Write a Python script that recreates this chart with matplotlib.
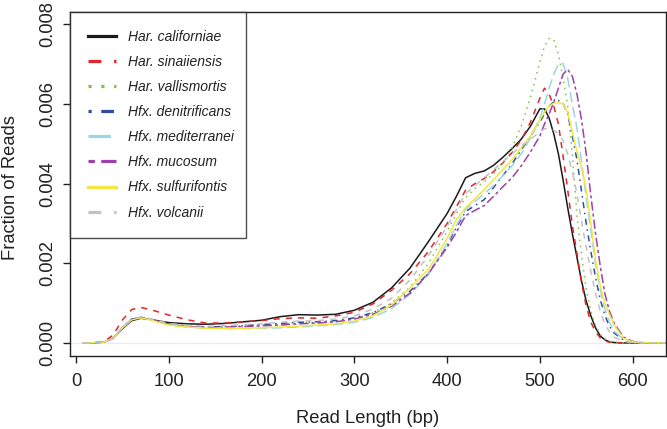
import matplotlib
matplotlib.use("Agg")
import matplotlib.pyplot as plt
from matplotlib.lines import Line2D

plt.rcParams['font.family'] = ['Liberation Sans', 'DejaVu Sans']

# Read length grid (bp)
read_length = [8, 20, 30, 40, 50, 60, 70, 80, 90, 100,
               120, 140, 160, 180, 200, 220, 240, 260, 280, 300,
               320, 340, 360, 380, 400, 410, 420, 430, 440, 450,
               460, 470, 480, 490, 500, 505, 510, 515, 520, 525,
               530, 535, 540, 545, 550, 555, 560, 565, 570, 575,
               580, 590, 600, 610, 620, 635]

# Fraction of reads, in units of 1e-3
har_californiae = [0, 0.005, 0.02, 0.12, 0.36, 0.56, 0.62, 0.59, 0.55, 0.51,
                   0.48, 0.47, 0.49, 0.53, 0.57, 0.66, 0.71, 0.70, 0.72, 0.82,
                   1.02, 1.38, 1.88, 2.55, 3.25, 3.68, 4.15, 4.26, 4.32, 4.46,
                   4.66, 4.88, 5.12, 5.45, 5.88, 5.88, 5.65, 5.25, 4.75, 4.10,
                   3.40, 2.75, 2.15, 1.55, 1.05, 0.68, 0.38, 0.18, 0.08, 0.03,
                   0.01, 0, 0, 0, 0, 0]
har_sinaiiensis = [0, 0.005, 0.03, 0.20, 0.58, 0.84, 0.89, 0.84, 0.77, 0.70,
                   0.58, 0.50, 0.50, 0.53, 0.56, 0.61, 0.63, 0.62, 0.68, 0.77,
                   0.98, 1.32, 1.74, 2.30, 3.00, 3.42, 3.84, 4.00, 4.13, 4.30,
                   4.52, 4.78, 5.10, 5.55, 6.15, 6.40, 6.25, 5.95, 5.50, 4.70,
                   3.85, 2.95, 2.25, 1.50, 0.92, 0.52, 0.28, 0.13, 0.05, 0.02,
                   0.01, 0, 0, 0, 0, 0]
har_vallismortis = [0, 0.005, 0.02, 0.12, 0.38, 0.60, 0.64, 0.60, 0.53, 0.47,
                    0.42, 0.40, 0.41, 0.43, 0.45, 0.48, 0.50, 0.52, 0.55, 0.62,
                    0.76, 1.00, 1.40, 2.00, 2.80, 3.25, 3.65, 3.88, 4.05, 4.25,
                    4.50, 4.90, 5.45, 6.18, 7.05, 7.45, 7.65, 7.62, 7.25, 6.65,
                    5.95, 4.75, 3.20, 2.20, 1.35, 0.80, 0.45, 0.22, 0.10, 0.04,
                    0.02, 0.005, 0, 0, 0, 0]
hfx_denitrificans = [0, 0.005, 0.02, 0.12, 0.38, 0.60, 0.64, 0.60, 0.53, 0.47,
                     0.42, 0.40, 0.41, 0.43, 0.46, 0.49, 0.52, 0.53, 0.56, 0.63,
                     0.76, 0.98, 1.30, 1.75, 2.45, 2.90, 3.30, 3.45, 3.60, 3.90,
                     4.20, 4.50, 4.85, 5.20, 5.55, 5.75, 5.95, 6.05, 6.09, 6.02,
                     5.75, 5.20, 4.60, 3.80, 3.00, 2.30, 1.65, 1.10, 0.70, 0.42,
                     0.25, 0.08, 0.02, 0.005, 0, 0]
hfx_mediterranei = [0, 0.005, 0.02, 0.12, 0.38, 0.60, 0.65, 0.60, 0.52, 0.46,
                    0.40, 0.37, 0.36, 0.36, 0.37, 0.38, 0.40, 0.43, 0.46, 0.52,
                    0.64, 0.86, 1.22, 1.72, 2.50, 2.95, 3.35, 3.55, 3.75, 3.95,
                    4.20, 4.45, 4.75, 5.15, 5.65, 6.00, 6.40, 6.75, 7.00, 7.02,
                    6.65, 6.00, 5.40, 4.55, 3.65, 2.80, 2.00, 1.35, 0.85, 0.52,
                    0.30, 0.09, 0.02, 0.005, 0, 0]
hfx_mucosum = [0, 0.005, 0.02, 0.12, 0.38, 0.60, 0.64, 0.60, 0.53, 0.46,
               0.41, 0.39, 0.40, 0.41, 0.43, 0.45, 0.48, 0.50, 0.53, 0.60,
               0.72, 0.92, 1.25, 1.75, 2.40, 2.78, 3.20, 3.33, 3.45, 3.68,
               3.92, 4.15, 4.45, 4.80, 5.20, 5.50, 5.75, 6.05, 6.40, 6.75,
               6.87, 6.70, 6.25, 5.60, 4.75, 3.70, 2.75, 1.95, 1.25, 0.80,
               0.50, 0.15, 0.04, 0.01, 0, 0]
hfx_sulfurifontis = [0, 0.005, 0.02, 0.12, 0.38, 0.58, 0.63, 0.58, 0.51, 0.45,
                     0.40, 0.37, 0.37, 0.37, 0.38, 0.40, 0.42, 0.45, 0.48, 0.55,
                     0.68, 0.95, 1.38, 1.85, 2.62, 3.10, 3.40, 3.62, 3.85, 4.10,
                     4.35, 4.60, 4.90, 5.20, 5.60, 5.80, 5.95, 6.02, 6.04, 6.00,
                     5.80, 5.30, 4.80, 4.40, 3.85, 3.00, 2.10, 1.45, 1.00, 0.72,
                     0.45, 0.12, 0.03, 0.01, 0.005, 0]
hfx_volcanii = [0, 0.005, 0.02, 0.12, 0.38, 0.60, 0.65, 0.61, 0.55, 0.49,
                0.44, 0.42, 0.43, 0.46, 0.48, 0.52, 0.55, 0.56, 0.60, 0.68,
                0.85, 1.12, 1.58, 2.20, 2.92, 3.35, 3.75, 3.95, 4.15, 4.35,
                4.55, 4.75, 4.95, 5.12, 5.30, 5.38, 5.40, 5.35, 5.25, 5.08,
                4.75, 4.30, 3.75, 3.05, 2.40, 1.80, 1.25, 0.80, 0.48, 0.28,
                0.15, 0.04, 0.01, 0, 0, 0]

species = ["Har. californiae", "Har. sinaiiensis", "Har. vallismortis",
           "Hfx. denitrificans", "Hfx. mediterranei", "Hfx. mucosum",
           "Hfx. sulfurifontis", "Hfx. volcanii"]
series = [har_californiae, har_sinaiiensis, har_vallismortis, hfx_denitrificans,
          hfx_mediterranei, hfx_mucosum, hfx_sulfurifontis, hfx_volcanii]
colors = ["#1a1a1a", "#e3262b", "#86c04a", "#2f4f9e",
          "#9dd5e6", "#9b41a9", "#f2e743", "#c2c2c2"]
dashes = [None, (4, 4), (1, 3), (1, 3, 4, 3), (7, 3), (2, 2, 6, 2), None, (4, 4)]

fig = plt.figure(figsize=(6.67, 4.29), dpi=100)
ax = fig.add_axes([0.1050, 0.1709, 0.8935, 0.8018])

ax.axhline(0, color="#ebebeb", lw=0.8, zorder=1)

for vals, c, d in zip(series, colors, dashes):
    y = [v * 1e-3 for v in vals]
    ln, = ax.plot(read_length, y, color=c, lw=1.1, zorder=2)
    if d is not None:
        ln.set_dashes(d)

ax.set_xlim(-6.5, 636)
ax.set_ylim(-0.00032, 0.00832)
ax.set_xticks([0, 100, 200, 300, 400, 500, 600])
ax.set_yticks([0, 0.002, 0.004, 0.006, 0.008])
ax.set_yticklabels(["0.000", "0.002", "0.004", "0.006", "0.008"])

for s in ax.spines.values():
    s.set_linewidth(1.0)
    s.set_color("#222222")
ax.tick_params(axis="both", direction="out", length=5.2, width=1.0,
               color="#222222", labelsize=13.2, labelcolor="#222222")
ax.tick_params(axis="x", pad=7.5)
ax.tick_params(axis="y", pad=4.5)
for lab in ax.get_yticklabels():
    lab.set_rotation(90)
    lab.set_va("center")

ax.set_xlabel("Read Length (bp)", fontsize=13.2, color="#222222")
ax.xaxis.set_label_coords(0.5, -0.158)
ax.set_ylabel("Fraction of Reads", fontsize=13.2, color="#222222")
ax.yaxis.set_label_coords(-0.085, 0.49)

handles = []
for c, d in zip(colors, dashes):
    h = Line2D([0], [0], color=c, lw=2.3)
    if d is not None:
        h.set_dashes(d)
    handles.append(h)
leg = ax.legend(handles, species, loc="upper left",
                bbox_to_anchor=(0.0, 1.0, 0.296, 0.0), mode="expand",
                borderaxespad=0, frameon=True, fancybox=False,
                prop={"style": "italic", "size": 10},
                handlelength=2.0, handletextpad=0.85, labelspacing=0.8,
                borderpad=1.3)
leg.get_frame().set_edgecolor("#222222")
leg.get_frame().set_linewidth(1.0)
for t in leg.get_texts():
    t.set_color("#222222")

fig.savefig("out.png", dpi=100)
